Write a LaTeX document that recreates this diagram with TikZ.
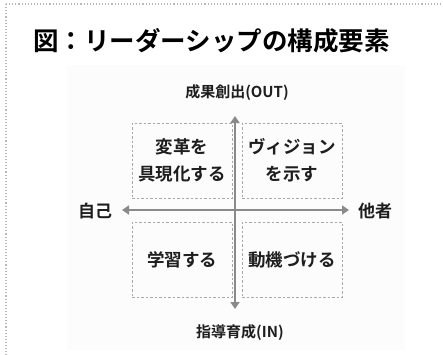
\documentclass[tikz,border=0pt]{standalone}
\usepackage{fontspec}
\newfontfamily\jpbold[BoldFont={Noto Sans CJK JP Bold}]{Noto Sans CJK JP Bold}
\usetikzlibrary{arrows.meta}
\definecolor{axisgray}{HTML}{8A8A8A}
\definecolor{boxgray}{HTML}{A8A8A8}
\definecolor{txt}{HTML}{1E1E1E}
\definecolor{bgfaint}{HTML}{FCFCFC}
\tikzset{
  quad/.style={draw=boxgray, line width=0.9pt, dash pattern=on 2.5pt off 2pt},
  axisline/.style={draw=axisgray, line width=2.4pt, -{Triangle[length=7pt,width=9pt]}},
  lbl/.style={font=\jpbold\fontsize{15}{17}\selectfont, text=txt, inner sep=0pt},
  qtext/.style={font=\jpbold\fontsize{17.5}{27}\selectfont, text=txt, align=center, inner sep=0pt},
}
\begin{document}
\begin{tikzpicture}[x=1pt,y=-1pt]
\useasboundingbox (0,0) rectangle (443,354);
\fill[white] (0,0) rectangle (443,354);
\fill[bgfaint] (67,65) rectangle (405,350);
\draw[gray!55, dotted, line width=1.1pt] (6,4) -- (446,4);
\draw[gray!55, dotted, line width=1.1pt] (6,4) -- (6,358);
\node[font=\jpbold\fontsize{25.5}{27}\selectfont, text=black, anchor=west, inner sep=0pt] (title) at (33,41) {図：リーダーシップの構成要素};
% quadrant boxes
\node[quad, minimum width=100pt, minimum height=75pt, inner sep=0pt] (tl) at (182,160.5) {};
\node[quad, minimum width=100pt, minimum height=75pt, inner sep=0pt] (tr) at (292,160.5) {};
\node[quad, minimum width=100pt, minimum height=75pt, inner sep=0pt] (bl) at (182,259.5) {};
\node[quad, minimum width=100pt, minimum height=75pt, inner sep=0pt] (br) at (292,259.5) {};
\node[qtext] (tlt) at (tl) {変革を\\具現化する};
\node[qtext] (trt) at (tr) {ヴィジョン\\を示す};
\node[qtext] (blt) at (bl) {学習する};
\node[qtext] (brt) at (br) {動機づける};
% axes
\coordinate (top) at (235,116);
\coordinate (bot) at (235,309);
\coordinate (lft) at (122,210);
\coordinate (rgt) at (349,210);
\coordinate (ctr) at (235,210);
\draw[axisline] (ctr) -- (top);
\draw[axisline] (ctr) -- (bot);
\draw[axisline] (ctr) -- (lft);
\draw[axisline] (ctr) -- (rgt);
% labels
\node[lbl] (out) at (237,93) {成果創出(OUT)};
\node[lbl] (in) at (240,333) {指導育成(IN)};
\node[lbl, font=\jpbold\fontsize{17}{19}\selectfont] (self) at (95,211) {自己};
\node[lbl, font=\jpbold\fontsize{17}{19}\selectfont] (other) at (375,211) {他者};
\end{tikzpicture}
\end{document}
